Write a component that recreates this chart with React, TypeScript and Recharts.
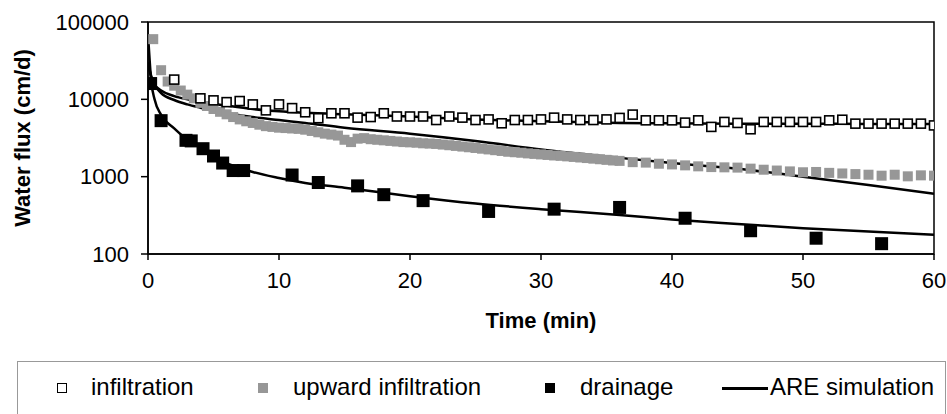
import React from "react";
import {
  ComposedChart,
  Line,
  Scatter,
  XAxis,
  YAxis,
  ReferenceArea,
} from "recharts";

// measured: open squares (infiltration)
const infiltrationTime = [
  2, 4, 5, 6, 7, 8, 9, 10, 11, 12, 13, 14, 15, 16, 17, 18, 19, 20, 21, 22, 23,
  24, 25, 26, 27, 28, 29, 30, 31, 32, 33, 34, 35, 36, 37, 38, 39, 40, 41, 42,
  43, 44, 45, 46, 47, 48, 49, 50, 51, 52, 53, 54, 55, 56, 57, 58, 59, 60,
];
const infiltrationFlux = [
  18000, 10300, 9700, 9200, 9500, 8600, 7200, 8600, 7700, 6800, 5700, 6600,
  6600, 5800, 5900, 6600, 6000, 6000, 6000, 5400, 6000, 5800, 5400, 5500, 4900,
  5400, 5400, 5500, 5800, 5500, 5400, 5400, 5500, 5750, 6350, 5350, 5350, 5350,
  5000, 5350, 4400, 5100, 4950, 4100, 5100, 5100, 5100, 5100, 5100, 5350, 5450,
  4850, 4850, 4850, 4850, 4850, 4850, 4600,
];

// measured: grey squares (upward infiltration)
const upwardTime = [
  0.4, 1, 1.5, 2, 2.5, 3, 3.5, 4, 4.5, 5, 5.5, 6, 6.5, 7, 7.5, 8, 8.5, 9, 9.5,
  10, 10.5, 11, 11.5, 12, 12.5, 13, 13.5, 14, 14.5, 15, 15.5, 16, 16.5, 17,
  17.5, 18, 18.5, 19, 19.5, 20, 20.5, 21, 21.5, 22, 22.5, 23, 23.5, 24, 24.5,
  25, 25.5, 26, 26.5, 27, 27.5, 28, 28.5, 29, 29.5, 30, 30.5, 31, 31.5, 32,
  32.5, 33, 33.5, 34, 34.5, 35, 35.5, 36, 37, 38, 39, 40, 41, 42, 43, 44, 45,
  46, 47, 48, 49, 50, 51, 52, 53, 54, 55, 56, 57, 58, 59, 60,
];
const upwardFlux = [
  60000, 23800, 17000, 15000, 13000, 11500, 10300, 9000, 8200, 7500, 6900,
  6400, 5900, 5500, 5200, 4950, 4700, 4500, 4400, 4300, 4250, 4200, 4150, 4050,
  3900, 3750, 3600, 3500, 3400, 3000, 2800, 3100, 3150, 3050, 3000, 2950, 2900,
  2850, 2800, 2780, 2750, 2700, 2680, 2650, 2600, 2550, 2500, 2450, 2400, 2350,
  2300, 2250, 2200, 2150, 2100, 2070, 2040, 2000, 1970, 1940, 1910, 1880, 1860,
  1830, 1800, 1770, 1740, 1710, 1680, 1650, 1620, 1600, 1540, 1520, 1470, 1440,
  1400, 1360, 1330, 1320, 1310, 1270, 1230, 1200, 1170, 1140, 1150, 1120, 1100,
  1080, 1060, 1030, 1060, 1010, 1040, 1030,
];

// measured: black squares (drainage)
const drainageTime = [
  0.2, 1, 2.9, 3.3, 4.2, 5, 5.7, 6.5, 7.3, 11, 13, 16, 18, 21, 26, 31, 36, 41,
  46, 51, 56,
];
const drainageFlux = [
  16000, 5300, 2950, 2900, 2300, 1850, 1500, 1200, 1200, 1050, 840, 760, 585,
  490, 355, 380, 400, 290, 200, 160, 136,
];

// ARE simulation curves
const simTime = [
  0, 0.25, 0.5, 1, 2, 3, 4, 6, 8, 10, 12, 15, 20, 25, 30, 36, 40, 45, 50, 55,
  60,
];
const simInfiltration = [
  30000, 20000, 15500, 13000, 11000, 10000, 9300, 8300, 7500, 7000, 6700, 6400,
  6000, 5500, 5200, 4950, 4900, 4850, 4850, 4800, 4800,
];
const simUpward = [
  30000, 19000, 15500, 12000, 9800, 8600, 7800, 6600, 5900, 5400, 4950, 4300,
  3600, 2900, 2250, 1750, 1500, 1270, 1000, 780, 600,
];
// drainage sim uses its own time grid (denser early)
const simDrainageTime = [
  0, 0.25, 0.5, 1, 2, 3, 4, 5, 8, 10, 12, 15, 20, 25, 30, 36, 40, 45, 50, 55,
  60,
];
const simDrainage = [
  70000, 17000, 10000, 6300, 4200, 3000, 2350, 1800, 1150, 960, 830, 720, 560,
  450, 380, 320, 280, 245, 215, 195, 178,
];

const xTicks = [0, 10, 20, 30, 40, 50, 60];
const yTicks = [100, 1000, 10000, 100000];

const zip = (ts: number[], vs: number[]) =>
  ts.map((t, i) => ({ x: t, y: vs[i] }));

const FONT = "'Liberation Sans', Arial, Helvetica, sans-serif";

const OpenSquare = (p: any) =>
  p.cx == null ? null : (
    <rect x={p.cx - 4.5} y={p.cy - 4.5} width={9} height={9} fill="#fff" stroke="#000" strokeWidth={1.6} />
  );
const GreySquare = (p: any) =>
  p.cx == null ? null : (
    <rect x={p.cx - 5} y={p.cy - 5} width={10} height={10} fill="#979797" />
  );
const BlackSquare = (p: any) =>
  p.cx == null ? null : (
    <rect x={p.cx - 6.5} y={p.cy - 6.5} width={13} height={13} fill="#000" />
  );

export default function App() {
  const legendText = { position: "absolute" as const, top: 11, fontSize: 24, lineHeight: "28px" };
  return (
    <div
      style={{
        position: "absolute",
        left: 0,
        top: 0,
        width: 947,
        height: 414,
        overflow: "hidden",
        background: "#fff",
        fontFamily: FONT,
      }}
    >
      <ComposedChart
        width={947}
        height={414}
        margin={{ top: 22, right: 13, left: 0, bottom: 80 }}
        style={{ fontFamily: FONT }}
      >
        <XAxis
          type="number"
          dataKey="x"
          domain={[0, 60]}
          ticks={xTicks}
          allowDataOverflow
          height={80}
          stroke="#000"
          strokeWidth={1.5}
          tickSize={6}
          tickMargin={12}
          tick={{ fontSize: 22, fill: "#000" }}
          label={{
            value: "Time (min)",
            position: "insideBottom",
            offset: 6,
            style: { fontSize: 22, fontWeight: "bold", fill: "#000" },
          }}
        />
        <YAxis
          type="number"
          dataKey="y"
          scale="log"
          domain={[100, 100000]}
          ticks={yTicks}
          allowDataOverflow
          width={148}
          stroke="#000"
          strokeWidth={1.5}
          tickSize={7}
          tickMargin={12}
          tick={{ fontSize: 22, fill: "#000" }}
          label={{
            value: "Water flux (cm/d)",
            angle: -90,
            position: "insideLeft",
            offset: 22,
            style: { fontSize: 22, fontWeight: "bold", fill: "#000", textAnchor: "middle" },
          }}
        />
        <ReferenceArea
          x1={0}
          x2={60}
          y1={100}
          y2={100000}
          fill="none"
          stroke="#000"
          strokeWidth={1.5}
        />
        <Scatter
          data={zip(upwardTime, upwardFlux)}
          shape={GreySquare}
          isAnimationActive={false}
        />
        <Scatter
          data={zip(infiltrationTime, infiltrationFlux)}
          shape={OpenSquare}
          isAnimationActive={false}
        />
        <Scatter
          data={zip(drainageTime, drainageFlux)}
          shape={BlackSquare}
          isAnimationActive={false}
        />
        <Line
          data={zip(simTime, simInfiltration)}
          dataKey="y"
          type="monotone"
          stroke="#000"
          strokeWidth={2.5}
          dot={false}
          isAnimationActive={false}
        />
        <Line
          data={zip(simTime, simUpward)}
          dataKey="y"
          type="monotone"
          stroke="#000"
          strokeWidth={2.5}
          dot={false}
          isAnimationActive={false}
        />
        <Line
          data={zip(simDrainageTime, simDrainage)}
          dataKey="y"
          type="monotone"
          stroke="#000"
          strokeWidth={2.5}
          dot={false}
          isAnimationActive={false}
        />
      </ComposedChart>

      {/* legend box */}
      <div
        style={{
          position: "absolute",
          left: 17,
          top: 361,
          width: 929,
          height: 60,
          border: "1px solid #999",
          boxSizing: "border-box",
          color: "#000",
        }}
      >
        <div style={{ position: "absolute", left: 39, top: 21, width: 8, height: 8, border: "1.5px solid #000", background: "#fff" }} />
        <div style={{ ...legendText, left: 73 }}>infiltration</div>
        <div style={{ position: "absolute", left: 240, top: 21, width: 10, height: 10, background: "#979797" }} />
        <div style={{ ...legendText, left: 275 }}>upward infiltration</div>
        <div style={{ position: "absolute", left: 527, top: 21, width: 10, height: 10, background: "#000" }} />
        <div style={{ ...legendText, left: 562 }}>drainage</div>
        <div style={{ position: "absolute", left: 704, top: 25, width: 46, height: 2.5, background: "#000" }} />
        <div style={{ ...legendText, left: 752 }}>ARE simulation</div>
      </div>
    </div>
  );
}
